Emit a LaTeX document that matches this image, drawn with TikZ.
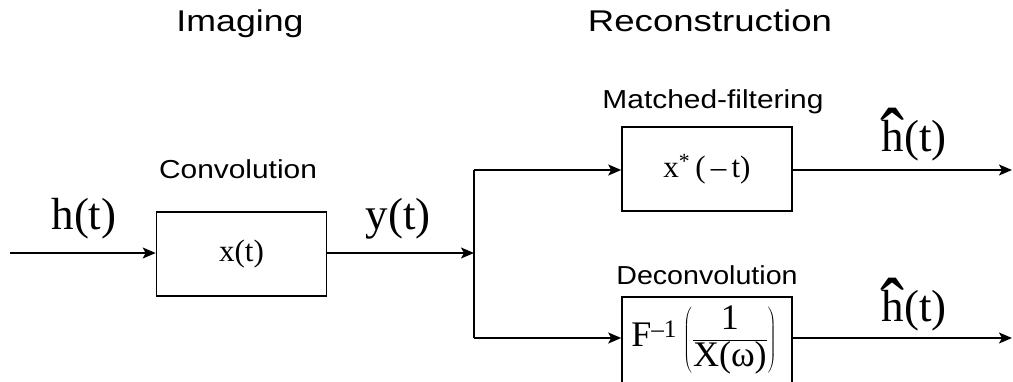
\documentclass[tikz,border=0pt]{standalone}
\usepackage{fontspec}
\usepackage{graphicx}
\setmainfont{Liberation Serif}
\setsansfont{Liberation Sans}
\usetikzlibrary{arrows.meta,calc}
\newcommand\myhat[1]{\leavevmode\ooalign{#1\cr\hidewidth\raisebox{-0.30em}{\scalebox{1.6}[1.8]{\symbol{"02C6}}}\hidewidth\cr}}
\tikzset{
  blk/.style={draw,line width=1.6pt,rectangle,inner sep=0pt,minimum width=170pt,minimum height=84pt,font=\fontsize{31}{36}\selectfont},
  conn/.style={line width=1.6pt},
  arr/.style={conn,-{Stealth[length=13pt,width=11pt,inset=3pt]}},
  title/.style={font=\sffamily\fontsize{30}{36}\selectfont,anchor=base,inner sep=0pt},
  lab/.style={font=\sffamily\fontsize{26}{31}\selectfont,anchor=base,inner sep=0pt},
  sig/.style={font=\fontsize{45}{54}\selectfont,anchor=base,inner sep=0pt}
}
\begin{document}
\begin{tikzpicture}[x=1pt,y=-1pt]
\useasboundingbox[fill=white] (0,0) rectangle (1013,381);
% titles
\node[title] (timg) at (240,31) {\scalebox{1.19}[1]{Imaging}};
\node[title] (trec) at (710,31) {\scalebox{1.22}[1]{Reconstruction}};
% labels
\node[lab] (lconv) at (238,178) {\scalebox{1.15}[1]{Convolution}};
\node[lab] (lmf) at (713,108) {\scalebox{1.15}[1]{Matched-filtering}};
\node[lab] (ldec) at (707,284) {\scalebox{1.1}[1]{Deconvolution}};
% blocks
\node[blk] (b1) at (241.5,254) {x(t)};
\node[blk] (b2) at (707,169) {x\textsuperscript{*}\,(\,--\,t)};
\node[blk,minimum height=86pt,font=\fontsize{36}{40}\selectfont] (b3) at (707,340) {\hspace*{-6pt}F\textsuperscript{--1}\,$\left(\displaystyle\frac{\mbox{1}}{\mbox{X(ω)}}\right)$};
% coordinates
\coordinate (in) at (10,253);
\coordinate (split) at (474,253);
\coordinate (st) at (474,170);
\coordinate (sb) at (474,338);
\coordinate (o1) at (1012,170);
\coordinate (o2) at (1012,338);
% connectors
\draw[arr] (in) -- (in -| b1.west);
\draw[arr] (b1.east |- split) -- (split);
\draw[conn] (st) -- (sb);
\draw[arr] (st) -- (st -| b2.west);
\draw[arr] (sb) -- (sb -| b3.west);
\draw[arr] (b2.east |- o1) -- (o1);
\draw[arr] (b3.east |- o2) -- (o2);
% signal labels
\node[sig] (lh) at (84,229) {h(t)};
\node[sig] (ly) at (398,229) {y(t)};
\node[sig] (lh1) at (914,151) {\myhat{h}(t)};
\node[sig] (lh2) at (914,321) {\myhat{h}(t)};
\end{tikzpicture}
\end{document}
